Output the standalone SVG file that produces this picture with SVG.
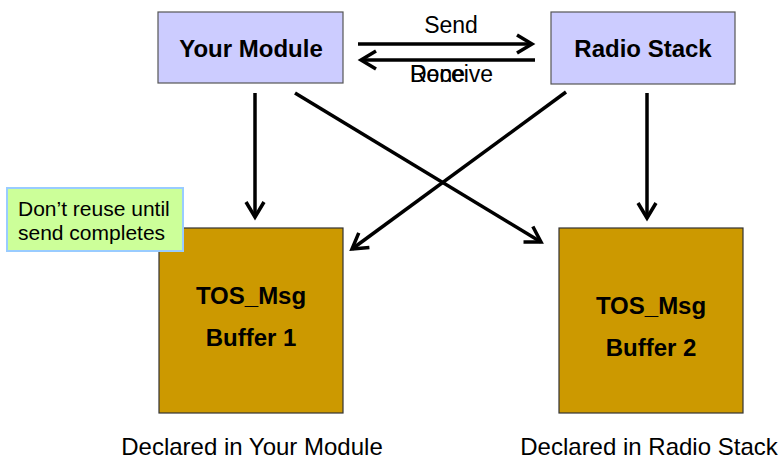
<svg xmlns="http://www.w3.org/2000/svg" width="780" height="461" viewBox="0 0 780 461">
<style>
.mod{fill:#CCCCFF;stroke:#555555;stroke-width:1.2}
.buf{fill:#CC9900;stroke:#333333;stroke-width:1.2}
.note{fill:#CCFF99;stroke:#99CCFF;stroke-width:2}
.b{font-family:"Liberation Sans",Arial,sans-serif;font-weight:bold;font-size:24px;fill:#000;text-anchor:middle}
.r{font-family:"Liberation Sans",Arial,sans-serif;font-size:23px;fill:#000}
.n{font-family:"Liberation Sans",Arial,sans-serif;font-size:21px;fill:#000}
.l{font-family:"Liberation Sans",Arial,sans-serif;font-size:24px;fill:#000;text-anchor:middle}
.c{stroke:#000;stroke-width:3.5;fill:none;marker-end:url(#ah)}
</style>
<defs>
<marker id="ah" markerUnits="userSpaceOnUse" markerWidth="40" markerHeight="40" viewBox="-20 -20 40 40" refX="0" refY="0" orient="auto" overflow="visible">
<path d="M-15,-9 L0,0 L-15,9" fill="none" stroke="#000" stroke-width="3.5" stroke-linejoin="miter"/>
</marker>
</defs>
<g id="buffer1">
<rect class="buf" x="159" y="228" width="184" height="185"/>
<text class="b" x="251" y="304">TOS_Msg</text>
<text class="b" x="251" y="346">Buffer 1</text>
</g>
<g id="buffer2">
<rect class="buf" x="559" y="228" width="184" height="185"/>
<text class="b" x="651" y="314">TOS_Msg</text>
<text class="b" x="651" y="356">Buffer 2</text>
</g>
<g id="note">
<rect class="note" x="7" y="188" width="176" height="63"/>
<text class="n" x="18" y="216">Don’t reuse until</text>
<text class="n" x="18" y="240">send completes</text>
</g>
<g id="your-module">
<rect class="mod" x="158" y="12" width="185" height="71"/>
<text class="b" x="251" y="57">Your Module</text>
</g>
<g id="radio-stack">
<rect class="mod" x="551" y="12" width="184" height="72"/>
<text class="b" x="643" y="57">Radio Stack</text>
</g>
<g id="connectors">
<line class="c" x1="358" y1="44" x2="532" y2="44"/>
<line class="c" x1="535" y1="60" x2="361" y2="60"/>
<line class="c" x1="255" y1="93" x2="255" y2="217"/>
<line class="c" x1="647" y1="93" x2="647" y2="218"/>
<line class="c" x1="295" y1="93" x2="541" y2="242"/>
<line class="c" x1="566" y1="92" x2="352" y2="249"/>
<text class="r" x="451" y="33" text-anchor="middle">Send</text>
<text class="r" x="410" y="82">Receive</text>
<text class="r" x="410" y="82">Done</text>
</g>
<g id="labels">
<text class="l" x="252" y="455">Declared in Your Module</text>
<text class="l" x="649" y="455">Declared in Radio Stack</text>
</g>
</svg>
